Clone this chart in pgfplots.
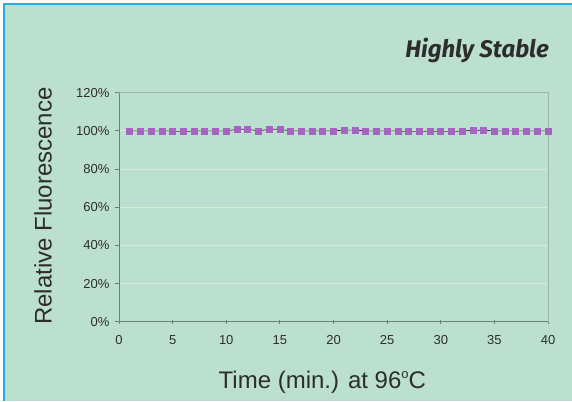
\documentclass[border=0pt]{standalone}
\usepackage{fontspec}
\setmainfont{Liberation Sans}
\newfontfamily\titlefont{Fira Sans}
\usepackage{pgfplots}
\pgfplotsset{compat=1.18}
\usetikzlibrary{calc,backgrounds}
\definecolor{bg}{RGB}{188,224,207}
\definecolor{frameblue}{RGB}{41,171,226}
\definecolor{axdark}{RGB}{105,130,120}
\definecolor{axlight}{RGB}{150,185,172}
\definecolor{gridc}{RGB}{216,236,212}
\definecolor{markc}{RGB}{165,100,192}
\definecolor{txt}{RGB}{45,45,45}
\begin{document}
\begin{tikzpicture}[x=1bp,y=1bp]
\begin{axis}[
  name=ax,
  scale only axis, width=429bp, height=229bp,
  xmin=0, xmax=40, ymin=0, ymax=120,
  xtick={0,5,...,40}, ytick={0,20,...,120},
  tick pos=left,
  yticklabel={\pgfmathprintnumber{\tick}\%},
  /pgf/number format/assume math mode=true,
  ymajorgrids, grid style={gridc, line width=0.8bp},
  axis line style={axlight, line width=0.8bp},
  tick style={axdark, line width=0.8bp},
  major tick length=4bp,
  xtick align=center, ytick align=outside,
  ticklabel style={font=\fontsize{13bp}{15bp}\selectfont, text=txt},
  yticklabel style={xshift=-2bp},
  xticklabel style={yshift=-8bp},
  xlabel={Time (min.) at 96\raisebox{10bp}{\fontsize{13bp}{13bp}\selectfont o}C},
  ylabel={Relative Fluorescence},
  label style={font=\fontsize{24bp}{28bp}\selectfont, text=txt},
  xlabel style={at={(axis description cs:0.474,-0.2895)}, anchor=base},
  ylabel style={at={(axis description cs:-0.177,0.505)}, anchor=center},
  clip=false,
]
\draw[axdark, line width=0.9bp] (rel axis cs:0,1) -- (rel axis cs:0,0) -- (rel axis cs:1,0);
\addplot[color=black!80, line width=0.7bp, mark=square*, mark size=3bp, mark options={fill=markc, draw=markc}] coordinates {
(1,100) (2,100) (3,100) (4,100) (5,100) (6,99.6) (7,100) (8,100) (9,100) (10,100)
(11,100.8) (12,100.8) (13,100) (14,100.8) (15,100.8) (16,100) (17,100) (18,100) (19,100) (20,100)
(21,100.4) (22,100.4) (23,100) (24,100) (25,100) (26,100) (27,99.6) (28,99.6) (29,100) (30,99.6)
(31,99.6) (32,100) (33,100.3) (34,100.3) (35,100) (36,100) (37,100) (38,100) (39,100) (40,100)
};
\end{axis}
\coordinate (O) at ($(ax.south west)+(-119,-79.3)$);
\node[anchor=base east, font=\titlefont\bfseries\itshape\fontsize{24bp}{28bp}\selectfont, text=txt, inner sep=0pt] at ($(O)+(549,343.3)$) {Highly Stable};
\begin{pgfonlayer}{background}
\fill[white] (O) rectangle ++(572,401);
\fill[bg] ($(O)+(4,0)$) rectangle ($(O)+(572,397)$);
\draw[frameblue, line width=2bp] ($(O)+(4,0)$) -- ($(O)+(4,397)$) -- ($(O)+(572,397)$);
\end{pgfonlayer}
\pgfresetboundingbox
\path[use as bounding box] (O) rectangle ($(O)+(572,401)$);
\end{tikzpicture}
\end{document}
